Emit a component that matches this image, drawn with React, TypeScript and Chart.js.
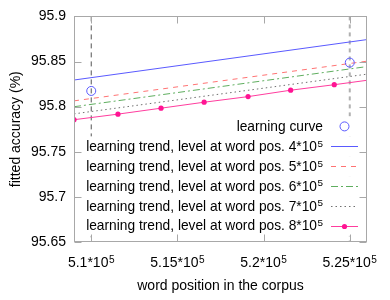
import { useEffect, useRef } from "react";
import { Chart, registerables } from "chart.js";

Chart.register(...registerables);

const FONT = "'Liberation Sans', Arial, Helvetica, sans-serif";

// axis ranges and ticks
const xRange = [509000, 526000];
const yRange = [95.65, 95.9];
const xTickValues = [510000, 515000, 520000, 525000];
const xTickLabels = ["5.1*10⁵", "5.15*10⁵", "5.2*10⁵", "5.25*10⁵"];
const yTickValues = [95.65, 95.7, 95.75, 95.8, 95.85, 95.9];
const yTickLabels = ["95.65", "95.7", "95.75", "95.8", "95.85", "95.9"];

// vertical reference markers
const markerLeftX = [510000, 510000];
const markerRightX = [525000, 525000];
const markerY = [95.9, 95.65];

// learning curve points
const curveX = [510000, 525000];
const curveY = [95.8174, 95.8488];

// learning trends
const trendX = [509000, 526000];
const trend4Y = [95.8295, 95.8743];
const trend5Y = [95.8064, 95.8504];
const trend6Y = [95.7999, 95.8444];
const trend7Y = [95.792, 95.836];
const trend8X = [509000, 511550, 514050, 516550, 519100, 521570, 524100, 526000];
const trend8Y = [95.7855, 95.7917, 95.7983, 95.8049, 95.8111, 95.8182, 95.8243, 95.8292];
const trend8Marks = [true, true, true, true, true, true, true, false];

const labels = [
  "learning curve",
  "learning trend, level at word pos. 4*10⁵",
  "learning trend, level at word pos. 5*10⁵",
  "learning trend, level at word pos. 6*10⁵",
  "learning trend, level at word pos. 7*10⁵",
  "learning trend, level at word pos. 8*10⁵",
];

const pts = (xs: number[], ys: number[]) => xs.map((x, i) => ({ x, y: ys[i] }));

const SUP: Record<string, string> = {
  "⁰": "0", "¹": "1", "²": "2", "³": "3", "⁴": "4",
  "⁵": "5", "⁶": "6", "⁷": "7", "⁸": "8", "⁹": "9",
};

function splitSup(s: string) {
  let i = s.length;
  while (i > 0 && SUP[s[i - 1]]) i--;
  const base = s.slice(0, i);
  const sup = s.slice(i).split("").map((c) => SUP[c]).join("");
  return { base, sup };
}

// draws text with a trailing superscript; anchor: 'left' | 'right' | 'center'
function drawSupText(ctx: any, s: string, x: number, baseline: number, size: number, anchor: string) {
  const { base, sup } = splitSup(s);
  const supSize = size * 0.72;
  ctx.font = `${size}px ${FONT}`;
  const bw = ctx.measureText(base).width;
  ctx.font = `${supSize}px ${FONT}`;
  const sw = sup ? ctx.measureText(sup).width + 0.5 : 0;
  const total = bw + sw;
  let left = x;
  if (anchor === "right") left = x - total;
  else if (anchor === "center") left = x - total / 2;
  ctx.textAlign = "left";
  ctx.textBaseline = "alphabetic";
  ctx.font = `${size}px ${FONT}`;
  ctx.fillText(base, left, baseline);
  if (sup) {
    ctx.font = `${supSize}px ${FONT}`;
    ctx.fillText(sup, left + bw + 0.5, baseline - size * 0.3);
  }
  return left;
}

const gpLegend = {
  id: "gpLegend",
  afterDatasetsDraw(chart: any) {
    const { ctx, chartArea: a } = chart;
    const items = chart.data.datasets.filter((d: any) => d.label);
    const textRight = a.right - 44;
    const sL = a.right - 36;
    const sR = a.right - 9;
    const sC = (sL + sR) / 2;
    const rowH = 19.9;
    const y0 = a.top + 110;
    const size = 13.75;
    ctx.save();
    items.forEach((ds: any, i: number) => {
      const y = y0 + i * rowH;
      const { base, sup } = splitSup(ds.label);
      ctx.font = `${size}px ${FONT}`;
      const bw = ctx.measureText(base).width;
      ctx.font = `${size * 0.72}px ${FONT}`;
      const sw = sup ? ctx.measureText(sup).width + 0.5 : 0;
      const left = textRight - sw - bw;
      ctx.fillStyle = "#ffffff";
      ctx.fillRect(left - 3, y - rowH / 2, sR + 3 - (left - 3), rowH);
      ctx.fillStyle = "#000000";
      drawSupText(ctx, ds.label, textRight, y + 4.5, size, "right");
      // sample
      ctx.strokeStyle = ds.borderColor;
      ctx.lineWidth = ds.borderWidth || 1;
      if (ds.showLine === false) {
        ctx.setLineDash([]);
        ctx.beginPath();
        ctx.arc(sC, y, ds.pointRadius, 0, Math.PI * 2);
        ctx.stroke();
      } else {
        ctx.setLineDash(ds.borderDash || []);
        ctx.beginPath();
        ctx.moveTo(sL, Math.round(y) + 0.5);
        ctx.lineTo(sR, Math.round(y) + 0.5);
        ctx.stroke();
        ctx.setLineDash([]);
        if (Array.isArray(ds.pointRadius)) {
          ctx.fillStyle = ds.pointBackgroundColor;
          ctx.beginPath();
          ctx.arc(sC, Math.round(y) + 0.5, ds.pointRadius[0], 0, Math.PI * 2);
          ctx.fill();
        }
      }
    });
    ctx.restore();
  },
};

const gpFrame = {
  id: "gpFrame",
  afterDatasetsDraw(chart: any) {
    const { ctx, chartArea: a, scales } = chart;
    const L = Math.round(a.left) + 0.5;
    const R = Math.round(a.right) - 0.5;
    const T = Math.round(a.top) + 0.5;
    const B = Math.round(a.bottom) - 0.5;
    const tick = 7;
    ctx.save();
    ctx.strokeStyle = "#a8a8a8";
    ctx.lineWidth = 1;
    ctx.setLineDash([]);
    ctx.beginPath();
    xTickValues.forEach((v) => {
      const px = Math.round(scales.x.getPixelForValue(v)) + 0.5;
      ctx.moveTo(px, B);
      ctx.lineTo(px, B - tick);
      ctx.moveTo(px, T);
      ctx.lineTo(px, T + tick);
    });
    yTickValues.forEach((v) => {
      const py = Math.round(scales.y.getPixelForValue(v)) + 0.5;
      ctx.moveTo(L, py);
      ctx.lineTo(L + tick, py);
      ctx.moveTo(R, py);
      ctx.lineTo(R - tick, py);
    });
    ctx.stroke();
    ctx.strokeRect(L, T, R - L, B - T);
    // x tick labels with superscript exponents
    ctx.fillStyle = "#000000";
    xTickValues.forEach((v, i) => {
      const px = scales.x.getPixelForValue(v);
      drawSupText(ctx, xTickLabels[i], px, a.bottom + 25, 14, "center");
    });
    ctx.restore();
  },
};

export default function App() {
  const ref = useRef<HTMLCanvasElement>(null);

  useEffect(() => {
    if (!ref.current) return;
    const blue = "#5a5aff";
    const chart = new Chart(ref.current, {
      type: "line",
      data: {
        datasets: [
          {
            label: labels[0],
            data: pts(curveX, curveY),
            showLine: false,
            pointStyle: "circle",
            pointRadius: 4.5,
            pointBorderWidth: 1,
            borderWidth: 1,
            borderColor: blue,
            pointBorderColor: blue,
            pointBackgroundColor: "rgba(0,0,0,0)",
          },
          {
            label: labels[1],
            data: pts(trendX, trend4Y),
            borderColor: blue,
            borderWidth: 1,
            pointRadius: 0,
          },
          {
            label: labels[2],
            data: pts(trendX, trend5Y),
            borderColor: "#ff7373",
            borderWidth: 1,
            borderDash: [5, 5],
            pointRadius: 0,
          },
          {
            label: labels[3],
            data: pts(trendX, trend6Y),
            borderColor: "#5fae5f",
            borderWidth: 1,
            borderDash: [7, 3, 2, 3],
            pointRadius: 0,
          },
          {
            label: labels[4],
            data: pts(trendX, trend7Y),
            borderColor: "#707070",
            borderWidth: 1,
            borderDash: [1.5, 3],
            pointRadius: 0,
          },
          {
            label: labels[5],
            data: pts(trend8X, trend8Y),
            borderColor: "#ff3d9e",
            borderWidth: 1,
            pointRadius: trend8Marks.map((m) => (m ? 2.6 : 0)),
            pointBackgroundColor: "#ff1493",
            pointBorderColor: "#ff1493",
            pointBorderWidth: 0,
          },
          {
            data: pts(markerLeftX, markerY),
            borderColor: "#555555",
            borderWidth: 1,
            borderDash: [5, 4],
            pointRadius: 0,
          },
          {
            data: pts(markerRightX, markerY),
            borderColor: "#b0b0b0",
            borderWidth: 2,
            borderDash: [4, 4],
            pointRadius: 0,
          },
        ],
      } as any,
      options: {
        responsive: false,
        animation: false,
        events: [],
        layout: { padding: { top: 15, right: 23, left: 0, bottom: 0 } },
        plugins: {
          legend: { display: false },
          tooltip: { enabled: false },
        },
        elements: { line: { tension: 0 } },
        scales: {
          x: {
            type: "linear",
            min: xRange[0],
            max: xRange[1],
            afterBuildTicks: (s: any) => {
              s.ticks = xTickValues.map((v) => ({ value: v }));
            },
            afterFit: (s: any) => {
              s.height = 58;
            },
            grid: { display: false, drawTicks: false },
            border: { display: false },
            ticks: { display: false },
            title: {
              display: true,
              text: "word position in the corpus",
              color: "#000",
              font: { family: FONT, size: 14 },
              padding: { top: 0, bottom: 5 },
            },
          },
          y: {
            type: "linear",
            min: yRange[0],
            max: yRange[1],
            afterBuildTicks: (s: any) => {
              s.ticks = yTickValues.map((v) => ({ value: v }));
            },
            afterFit: (s: any) => {
              s.width = 74;
            },
            grid: { display: false, drawTicks: false },
            border: { display: false },
            ticks: {
              padding: 8,
              color: "#000",
              font: { family: FONT, size: 14 },
              callback: (v: any) => {
                const i = yTickValues.findIndex((t) => Math.abs(t - Number(v)) < 1e-9);
                return yTickLabels[i];
              },
            },
            title: {
              display: true,
              text: "fitted accuracy (%)",
              color: "#000",
              font: { family: FONT, size: 14 },
              padding: { top: 8, bottom: 0 },
            },
          },
        },
      } as any,
      plugins: [gpLegend, gpFrame],
    });
    return () => chart.destroy();
  }, []);

  return (
    <div style={{ position: "absolute", left: 0, top: 0, width: 390, height: 300, background: "#fff" }}>
      <canvas ref={ref} width={390} height={300} style={{ display: "block", width: 390, height: 300 }} />
    </div>
  );
}
